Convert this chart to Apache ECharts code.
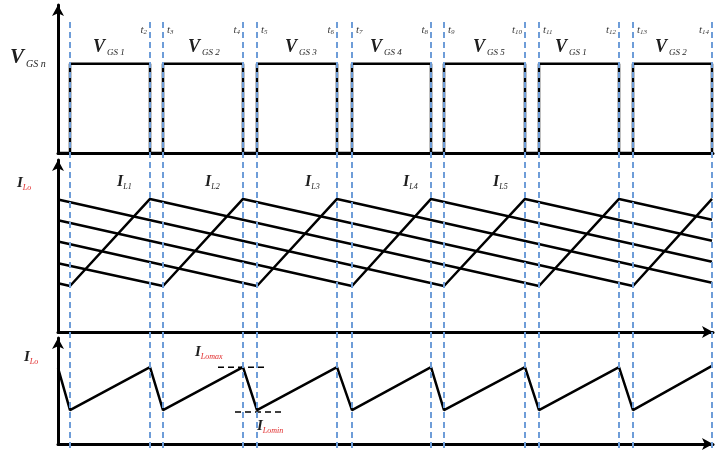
<!DOCTYPE html>
<html>
<head>
<meta charset="utf-8">
<script src="https://cdn.jsdelivr.net/npm/echarts@6/dist/echarts.min.js"></script>
<style>
  html, body { margin: 0; padding: 0; background: #fff; }
  #chart { width: 715px; height: 453px; }
</style>
</head>
<body>
<div id="chart"></div>
<script>
// switching instants t1..t14 (time units along the axis)
var tMarks = [12, 92, 105, 185, 199, 279, 294, 373, 386, 467, 481, 561, 575, 654];
var tNames = ['', '2', '3', '4', '5', '6', '7', '8', '9', '10', '11', '12', '13', '14'];
var gateNames = ['1', '2', '3', '4', '5', '1', '2'];
var vgsHigh = 1;

// phase inductor currents, corner points [t, I]
var iL1 = [[0, 2.27], [12, 2.14], [92, 6.19], [481, 2.14], [561, 6.19], [654, 5.22]];
var iL2 = [[0, 3.2], [105, 2.14], [185, 6.19], [575, 2.14], [654, 6.19]];
var iL3 = [[0, 4.21], [199, 2.14], [279, 6.19], [654, 2.29]];
var iL4 = [[0, 5.2], [294, 2.14], [373, 6.19], [654, 3.27]];
var iL5 = [[0, 6.16], [386, 2.14], [467, 6.19], [654, 4.24]];

// total output current ripple
var iLo = [[0, 2.87], [12, 1.28], [92, 2.9], [105, 1.28], [185, 2.9], [199, 1.28], [279, 2.9],
           [294, 1.28], [373, 2.9], [386, 1.28], [467, 2.9], [481, 1.28], [561, 2.9], [575, 1.28], [654, 2.95]];
var loMaxMark = [[160, 2.9], [207, 2.9]];
var loMinMark = [[177, 1.21], [224, 1.21]];

// gate pulse waveform from switching instants
var vgs = [[0, 0]];
for (var i = 0; i < tMarks.length; i += 2) {
  vgs.push([tMarks[i], 0], [tMarks[i], vgsHigh], [tMarks[i + 1], vgsHigh], [tMarks[i + 1], 0]);
}

var serif = 'Liberation Serif';
var ink = '#1e1e1e';

function hidden() {
  return { show: false };
}
function xAx(idx, line, arrow) {
  return {
    type: 'value', gridIndex: idx, min: 0, max: 655,
    axisLine: { show: line, symbol: arrow ? ['none', 'arrow'] : 'none', symbolSize: [9, 11],
                lineStyle: { color: '#000', width: 3 } },
    axisTick: hidden(), axisLabel: hidden(), splitLine: hidden()
  };
}
function yAx(idx, max, line) {
  return {
    type: 'value', gridIndex: idx, min: 0, max: max,
    axisLine: { show: line, symbol: ['none', 'arrow'], symbolSize: [9, 11],
                lineStyle: { color: '#000', width: 3 } },
    axisTick: hidden(), axisLabel: hidden(), splitLine: hidden()
  };
}
function wave(name, data, xi, yi) {
  return {
    name: name, type: 'line', xAxisIndex: xi, yAxisIndex: yi, data: data,
    showSymbol: false, symbol: 'none', lineStyle: { color: '#000', width: 2.5 }, z: 3
  };
}
function dashMark(data) {
  return {
    type: 'line', xAxisIndex: 2, yAxisIndex: 2, data: data, showSymbol: false, symbol: 'none',
    lineStyle: { color: '#000', width: 1.5, type: [6, 4] }, z: 3
  };
}

var chart = echarts.init(document.getElementById('chart'));
var option = {
  animation: false,
  backgroundColor: '#fff',
  grid: [
    { left: 58, right: 2, top: 5, height: 148 },
    { left: 58, right: 2, top: 160, height: 172 },
    { left: 58, right: 2, top: 338, height: 106 },
    { left: 58, right: 2, top: 22, height: 426 }
  ],
  xAxis: [xAx(0, true, false), xAx(1, true, true), xAx(2, true, true), xAx(3, false, false)],
  yAxis: [yAx(0, 1.66, true), yAx(1, 8, true), yAx(2, 4, true), yAx(3, 1, false)],
  series: [
    wave('VGS', vgs, 0, 0),
    wave('IL1', iL1, 1, 1),
    wave('IL2', iL2, 1, 1),
    wave('IL3', iL3, 1, 1),
    wave('IL4', iL4, 1, 1),
    wave('IL5', iL5, 1, 1),
    wave('ILo', iLo, 2, 2),
    dashMark(loMaxMark),
    dashMark(loMinMark),
    {
      type: 'line', xAxisIndex: 3, yAxisIndex: 3, data: [], z: 10,
      markLine: {
        silent: true, symbol: 'none', label: { show: false },
        lineStyle: { color: '#6e9dd8', width: 2, type: [6, 4] },
        data: tMarks.map(function (t) { return { xAxis: t }; })
      }
    }
  ]
};
chart.setOption(option);

// labels
function px(t, y, g) {
  return chart.convertToPixel({ gridIndex: g }, [t, y]);
}
function label(x, y, text, rich, align) {
  return {
    type: 'text', x: x, y: y, z: 20,
    style: { text: text, rich: rich, fill: ink, align: align || 'left', textAlign: align || 'left',
             verticalAlign: 'middle', textVerticalAlign: 'middle' }
  };
}
var richV = {
  v: { fontFamily: serif, fontStyle: 'italic', fontWeight: 'bold', fontSize: 18, fill: ink, lineHeight: 20 },
  s: { fontFamily: serif, fontStyle: 'italic', fontSize: 9, fill: ink, verticalAlign: 'bottom', padding: [0, 0, 0, 2] }
};
var richBigV = {
  v: { fontFamily: serif, fontStyle: 'italic', fontWeight: 'bold', fontSize: 21, fill: ink, lineHeight: 22 },
  s: { fontFamily: serif, fontStyle: 'italic', fontSize: 10, fill: ink, verticalAlign: 'bottom', padding: [0, 0, 0, 2] }
};
var richI = {
  v: { fontFamily: serif, fontStyle: 'italic', fontWeight: 'bold', fontSize: 16, fill: ink, lineHeight: 18 },
  s: { fontFamily: serif, fontStyle: 'italic', fontSize: 8, fill: ink, verticalAlign: 'bottom' }
};
var richIr = {
  v: { fontFamily: serif, fontStyle: 'italic', fontWeight: 'bold', fontSize: 15, fill: ink, lineHeight: 17 },
  s: { fontFamily: serif, fontStyle: 'italic', fontSize: 8, fill: '#e02828', verticalAlign: 'bottom' }
};
var richT = {
  v: { fontFamily: serif, fontStyle: 'italic', fontSize: 11, fill: '#3a3a3a', lineHeight: 12 },
  s: { fontFamily: serif, fontStyle: 'italic', fontSize: 7, fill: '#3a3a3a', verticalAlign: 'bottom' }
};

var graphics = [];
graphics.push(label(10, 58, '{v|V}{s|GS n}', richBigV));
var vx = [93, 188, 285, 370, 473, 555, 655];
for (var k = 0; k < gateNames.length; k++) {
  graphics.push(label(vx[k], 47, '{v|V}{s|GS ' + gateNames[k] + '}', richV));
}
var ix = [117, 205, 305, 403, 493];
for (var k = 0; k < 5; k++) {
  graphics.push(label(ix[k], 182, '{v|I}{s|L' + (k + 1) + '}', richI));
}
for (var k = 1; k < tMarks.length; k++) {
  var p = px(tMarks[k], 0, 3);
  var even = (k % 2 === 1);
  graphics.push(label(even ? p[0] - 3 : p[0] + 4, 30, '{v|t}{s|' + tNames[k] + '}', richT, even ? 'right' : 'left'));
}
graphics.push(label(17, 183, '{v|I}{s|Lo}', richIr));
graphics.push(label(24, 357, '{v|I}{s|Lo}', richIr));
graphics.push(label(195, 352, '{v|I}{s|Lomax}', richIr));
graphics.push(label(257, 426, '{v|I}{s|Lomin}', richIr));

chart.setOption({ graphic: graphics });
</script>
</body>
</html>
